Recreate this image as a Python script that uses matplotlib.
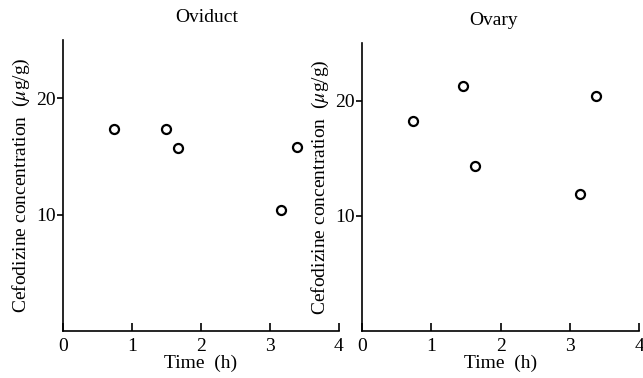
import matplotlib.pyplot as plt

plt.rcParams['font.family'] = ['Liberation Serif', 'DejaVu Serif']
plt.rcParams['mathtext.fontset'] = 'stix'

# valores
oviduct_t = [0.74, 1.50, 1.67, 3.16, 3.40]
oviduct_c = [17.4, 17.4, 15.7, 10.4, 15.8]
ovary_t = [0.73, 1.46, 1.63, 3.15, 3.38]
ovary_c = [18.2, 21.3, 14.3, 11.9, 20.4]
titles = ['Oviduct', 'Ovary']
x_ticks = [0, 1, 2, 3, 4]
y_ticks = [10, 20]

fig = plt.figure(figsize=(6.43, 3.78), dpi=100)
ax1 = fig.add_axes([0.098, 0.124, 0.429, 0.770])
ax2 = fig.add_axes([0.563, 0.124, 0.431, 0.762])

for ax, t, c, title, tx in [(ax1, oviduct_t, oviduct_c, titles[0], 0.52),
                            (ax2, ovary_t, ovary_c, titles[1], 0.475)]:
    ax.plot(t, c, 'o', mfc='white', mec='black', ms=6.5, mew=1.6, ls='none')
    ax.set_xlim(0, 4)
    ax.set_ylim(0, 25)
    ax.set_xticks(x_ticks)
    ax.set_yticks(y_ticks)
    ax.spines['top'].set_visible(False)
    ax.spines['right'].set_visible(False)
    ax.spines['left'].set_linewidth(1.2)
    ax.spines['bottom'].set_linewidth(1.2)
    ax.tick_params(axis='x', direction='in', length=6, width=1.2, labelsize=14, pad=5)
    ax.tick_params(axis='y', direction='out', length=4, width=1.2, labelsize=14, pad=1)
    ax.set_title(title, fontsize=14, pad=13, x=tx)
    ax.set_xlabel('Time  (h)', fontsize=14, labelpad=0)
    ax.set_ylabel('Cefodizine concentration  ($\\mu$g/g)', fontsize=14, labelpad=3)

plt.savefig('out.png', dpi=100)
